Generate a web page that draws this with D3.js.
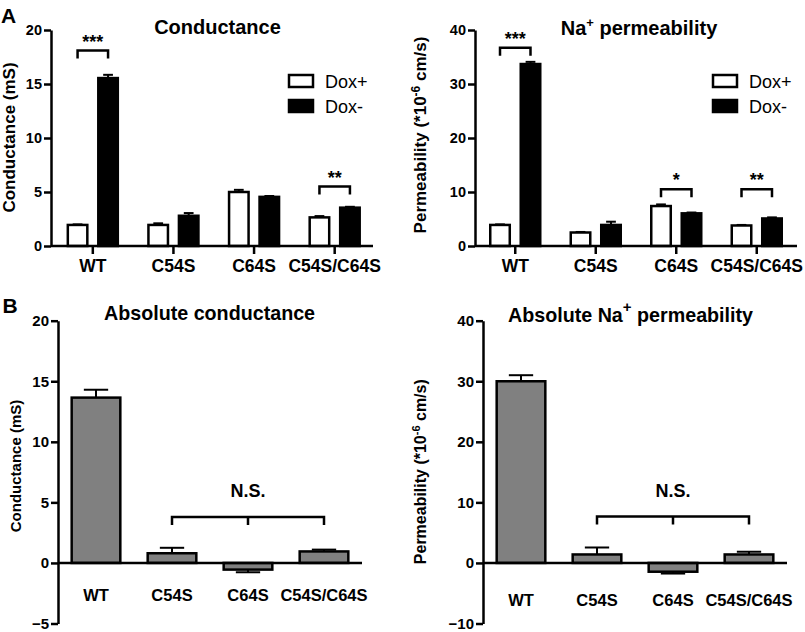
<!DOCTYPE html>
<html>
<head>
<meta charset="utf-8">
<script src="https://cdn.jsdelivr.net/npm/d3@7"></script>
<style>
body { margin: 0; background: #fff; }
svg { font-family: "Liberation Sans", Arial, sans-serif; }
</style>
</head>
<body>
<svg id="chart" width="805" height="632"></svg>
<script>
var categories = ['WT', 'C54S', 'C64S', 'C54S/C64S'],
    series = ['Dox+', 'Dox-'];

// A: conductance (mS)
var condDoxPlus = [1.95, 1.95, 5.0, 2.65],
    condDoxPlusErr = [0.05, 0.15, 0.2, 0.12],
    condDoxMinus = [15.55, 2.8, 4.55, 3.55],
    condDoxMinusErr = [0.3, 0.25, 0.08, 0.08],
    condTicks = [0, 5, 10, 15, 20];

// A: Na+ permeability (*10^-6 cm/s)
var permDoxPlus = [3.9, 2.5, 7.4, 3.8],
    permDoxPlusErr = [0.1, 0.1, 0.3, 0.1],
    permDoxMinus = [33.7, 3.9, 6.05, 5.1],
    permDoxMinusErr = [0.4, 0.6, 0.15, 0.2],
    permTicks = [0, 10, 20, 30, 40];

// B: absolute values (Dox- minus Dox+)
var absCond = [13.65, 0.8, -0.55, 0.95],
    absCondErr = [0.65, 0.45, 0.22, 0.15],
    absCondTicks = [-5, 0, 5, 10, 15, 20],
    absPerm = [30.0, 1.4, -1.45, 1.4],
    absPermErr = [1.0, 1.15, 0.3, 0.45],
    absPermTicks = [-10, 0, 10, 20, 30, 40];

// significance brackets (bracket level in data units)
var condSig = [{ cat: 'WT', level: 18.1, label: '***' }, { cat: 'C54S/C64S', level: 5.5, label: '**' }],
    permSig = [{ cat: 'WT', level: 36.7, label: '***' }, { cat: 'C64S', level: 10.5, label: '*' }, { cat: 'C54S/C64S', level: 10.5, label: '**' }];

var svg = d3.select('#chart');

function styleYAxis(g, fs) {
	g.select('.domain').attr('stroke-width', 2.5);
	g.selectAll('.tick line').attr('stroke-width', 2.5);
	g.selectAll('.tick text').attr('font-size', fs).attr('font-weight', 'bold').attr('fill', '#000');
}

function addTitle(x, y, parts, fs) {
	var t = svg.append('text')
		.attr('x', x).attr('y', y)
		.attr('text-anchor', 'middle')
		.attr('font-size', fs).attr('font-weight', 'bold');
	parts.forEach(function (p) {
		t.append('tspan').text(p.t)
			.attr('dy', p.dy || 0)
			.attr('font-size', p.fs || null);
	});
}

function addYLabel(x, y, parts, fs) {
	var t = svg.append('text')
		.attr('transform', 'translate(' + x + ',' + y + ') rotate(-90)')
		.attr('text-anchor', 'middle')
		.attr('font-size', fs).attr('font-weight', 'bold');
	parts.forEach(function (p) {
		t.append('tspan').text(p.t)
			.attr('dy', p.dy || 0)
			.attr('font-size', p.fs || null);
	});
}

function drawGrouped(p) {
	var g = svg.append('g');
	var y = d3.scaleLinear().domain(p.yDomain).range([p.bottom, p.top]);
	var x = d3.scaleBand().domain(categories).range(p.bandRange);
	var xSub = d3.scaleBand().domain(series).range([-25, 25]).paddingInner(0.36);
	var bw = xSub.bandwidth();
	var cx = function (c) { return x(c) + x.bandwidth() / 2; };

	var rows = [];
	categories.forEach(function (c, i) {
		rows.push({ cat: c, key: 'Dox+', v: p.plus[i], e: p.plusErr[i] });
		rows.push({ cat: c, key: 'Dox-', v: p.minus[i], e: p.minusErr[i] });
	});

	// error bars first, bars drawn on top
	var err = g.append('g').selectAll('g').data(rows).enter().append('g')
		.attr('stroke', '#000').attr('stroke-width', 2);
	err.append('line')
		.attr('x1', function (d) { return cx(d.cat) + xSub(d.key) + bw / 2; })
		.attr('x2', function (d) { return cx(d.cat) + xSub(d.key) + bw / 2; })
		.attr('y1', function (d) { return y(d.v); })
		.attr('y2', function (d) { return y(d.v + d.e); });
	err.append('line')
		.attr('x1', function (d) { return cx(d.cat) + xSub(d.key) + bw / 4; })
		.attr('x2', function (d) { return cx(d.cat) + xSub(d.key) + bw * 3 / 4; })
		.attr('y1', function (d) { return y(d.v + d.e); })
		.attr('y2', function (d) { return y(d.v + d.e); });

	g.append('g').selectAll('rect').data(rows).enter().append('rect')
		.attr('x', function (d) { return cx(d.cat) + xSub(d.key); })
		.attr('y', function (d) { return y(d.v); })
		.attr('width', bw)
		.attr('height', function (d) { return y(0) - y(d.v); })
		.attr('fill', function (d) { return d.key == 'Dox+' ? '#fff' : '#000'; })
		.attr('stroke', '#000').attr('stroke-width', 2.5);

	// y axis
	var ya = g.append('g').attr('transform', 'translate(' + p.axisX + ',0)')
		.call(d3.axisLeft(y).tickValues(p.ticks).tickSize(7).tickSizeOuter(0).tickPadding(2));
	styleYAxis(ya, 14.5);

	// x axis: tick marks and labels, own baseline
	var xa = g.append('g').attr('transform', 'translate(0,' + y(0) + ')')
		.call(d3.axisBottom(x).tickSize(8).tickSizeOuter(0).tickPadding(6));
	xa.select('.domain').remove();
	xa.selectAll('.tick line').attr('stroke-width', 2.5);
	xa.selectAll('.tick text').attr('font-size', 17.5).attr('font-weight', 'bold').attr('fill', '#000');
	g.append('line')
		.attr('x1', p.axisX).attr('x2', p.axisEnd)
		.attr('y1', y(0)).attr('y2', y(0))
		.attr('stroke', '#000').attr('stroke-width', 2.5);

	// significance brackets
	var sig = g.append('g').selectAll('g').data(p.sig).enter().append('g');
	sig.append('path')
		.attr('d', function (d) {
			var x1 = cx(d.cat) + xSub('Dox+') + bw / 2,
				x2 = cx(d.cat) + xSub('Dox-') + bw / 2,
				yy = y(d.level);
			return 'M' + x1 + ',' + (yy + 8) + 'V' + yy + 'H' + x2 + 'V' + (yy + 8);
		})
		.attr('fill', 'none').attr('stroke', '#000').attr('stroke-width', 2.5);
	sig.append('text')
		.attr('x', function (d) { return cx(d.cat); })
		.attr('y', function (d) { return y(d.level) - 3; })
		.attr('text-anchor', 'middle')
		.attr('font-size', 18).attr('font-weight', 'bold')
		.text(function (d) { return d.label; });

	// legend
	var lg = g.append('g').attr('transform', 'translate(' + (p.axisX + 238) + ',75)');
	series.forEach(function (s, i) {
		lg.append('rect')
			.attr('x', 0).attr('y', i * 25)
			.attr('width', 24).attr('height', 12)
			.attr('fill', s == 'Dox+' ? '#fff' : '#000')
			.attr('stroke', '#000').attr('stroke-width', 2.5);
		lg.append('text')
			.attr('x', 36).attr('y', i * 25 + 13)
			.attr('font-size', 18)
			.text(s);
	});
}

function drawSingle(p) {
	var g = svg.append('g');
	var y = d3.scaleLinear().domain(p.yDomain).range([p.bottom, p.top]);
	var x = d3.scaleBand().domain(categories).range([p.axisX, p.axisEnd])
		.paddingInner(0.36).paddingOuter(0.18);
	var bw = x.bandwidth();
	var rows = categories.map(function (c, i) { return { cat: c, v: p.values[i], e: p.errs[i] }; });

	var err = g.append('g').selectAll('g').data(rows).enter().append('g')
		.attr('stroke', '#000').attr('stroke-width', 2);
	err.append('line')
		.attr('x1', function (d) { return x(d.cat) + bw / 2; })
		.attr('x2', function (d) { return x(d.cat) + bw / 2; })
		.attr('y1', function (d) { return y(d.v); })
		.attr('y2', function (d) { return y(d.v + (d.v < 0 ? -d.e : d.e)); });
	err.append('line')
		.attr('x1', function (d) { return x(d.cat) + bw / 4; })
		.attr('x2', function (d) { return x(d.cat) + bw * 3 / 4; })
		.attr('y1', function (d) { return y(d.v + (d.v < 0 ? -d.e : d.e)); })
		.attr('y2', function (d) { return y(d.v + (d.v < 0 ? -d.e : d.e)); });

	g.append('g').selectAll('rect').data(rows).enter().append('rect')
		.attr('x', function (d) { return x(d.cat); })
		.attr('y', function (d) { return y(Math.max(d.v, 0)); })
		.attr('width', bw)
		.attr('height', function (d) { return Math.abs(y(d.v) - y(0)); })
		.attr('fill', '#808080')
		.attr('stroke', '#000').attr('stroke-width', 2.5);

	var ya = g.append('g').attr('transform', 'translate(' + p.axisX + ',0)')
		.call(d3.axisLeft(y).tickValues(p.ticks).tickSize(7).tickSizeOuter(0).tickPadding(2));
	styleYAxis(ya, 15);

	g.append('line')
		.attr('x1', p.axisX).attr('x2', p.axisEnd)
		.attr('y1', y(0)).attr('y2', y(0))
		.attr('stroke', '#000').attr('stroke-width', 2.5);

	g.append('g').selectAll('text').data(categories).enter().append('text')
		.attr('x', function (d) { return x(d) + bw / 2; })
		.attr('y', p.labelY)
		.attr('text-anchor', 'middle')
		.attr('font-size', 16.5).attr('font-weight', 'bold')
		.text(function (d) { return d; });

	// N.S. bracket over the three mutants
	var xa = x('C54S') + bw / 2, xm = x('C64S') + bw / 2, xb = x('C54S/C64S') + bw / 2,
		yb = y(p.nsLevel);
	g.append('path')
		.attr('d', 'M' + xa + ',' + (yb + 8) + 'V' + yb + 'H' + xb + 'V' + (yb + 8) +
			'M' + xm + ',' + yb + 'V' + (yb + 8))
		.attr('fill', 'none').attr('stroke', '#000').attr('stroke-width', 2.5);
	g.append('text')
		.attr('x', xm).attr('y', yb - 20)
		.attr('text-anchor', 'middle')
		.attr('font-size', 18).attr('font-weight', 'bold')
		.text('N.S.');
}

drawGrouped({ plus: condDoxPlus, plusErr: condDoxPlusErr, minus: condDoxMinus, minusErr: condDoxMinusErr,
	ticks: condTicks, yDomain: [0, 20], top: 30, bottom: 246,
	axisX: 51, axisEnd: 373, bandRange: [52.5, 375], sig: condSig });
drawGrouped({ plus: permDoxPlus, plusErr: permDoxPlusErr, minus: permDoxMinus, minusErr: permDoxMinusErr,
	ticks: permTicks, yDomain: [0, 40], top: 30, bottom: 246,
	axisX: 475, axisEnd: 797, bandRange: [475, 797], sig: permSig });
drawSingle({ values: absCond, errs: absCondErr, ticks: absCondTicks, yDomain: [-5, 20],
	top: 320.7, bottom: 623.5, axisX: 58, axisEnd: 362, labelY: 601, nsLevel: 3.8 });
drawSingle({ values: absPerm, errs: absPermErr, ticks: absPermTicks, yDomain: [-10, 40],
	top: 320.7, bottom: 623.5, axisX: 483, axisEnd: 787, labelY: 606, nsLevel: 7.65 });

// titles
addTitle(217.5, 34, [{ t: 'Conductance' }], 20);
addTitle(639, 35, [{ t: 'Na' }, { t: '+', dy: -8, fs: 13 }, { t: ' permeability', dy: 8 }], 20);
addTitle(209.5, 320, [{ t: 'Absolute conductance' }], 19.7);
addTitle(630.5, 321.5, [{ t: 'Absolute Na' }, { t: '+', dy: -10, fs: 15 }, { t: ' permeability', dy: 10 }], 19.7);

// axis titles
addYLabel(14.5, 137.5, [{ t: 'Conductance (mS)' }], 17);
addYLabel(426, 135, [{ t: 'Permeability (*10' }, { t: '-6', dy: -6, fs: 12 }, { t: ' cm/s)', dy: 6 }], 17);
addYLabel(21, 466, [{ t: 'Conductance (mS)' }], 15);
addYLabel(426, 471.7, [{ t: 'Permeability (*10' }, { t: '-6', dy: -6, fs: 11 }, { t: ' cm/s)', dy: 6 }], 16);

// panel letters
svg.append('text').attr('x', 1).attr('y', 23).attr('font-size', 21).attr('font-weight', 'bold').text('A');
svg.append('text').attr('x', 2.5).attr('y', 313).attr('font-size', 21).attr('font-weight', 'bold').text('B');
</script>
</body>
</html>
